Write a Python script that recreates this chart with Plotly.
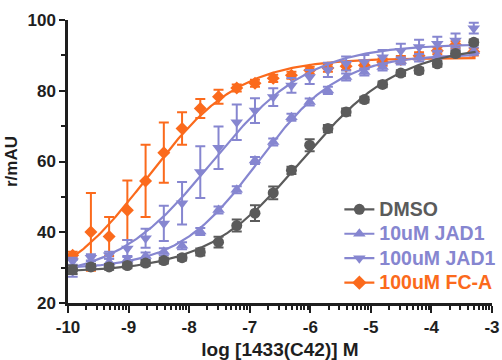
import numpy as np
import plotly.graph_objects as go

# ---- data ----
log_conc = [-9.923, -9.622, -9.321, -9.020, -8.719, -8.418, -8.117, -7.816,
            -7.515, -7.214, -6.913, -6.612, -6.311, -6.010, -5.709, -5.408,
            -5.107, -4.806, -4.505, -4.204, -3.903, -3.602, -3.301]

dmso = [29.4, 30.2, 30.2, 30.6, 31.3, 32.0, 32.8, 34.4, 37.2, 41.9, 45.4, 51.1,
        57.5, 64.6, 69.3, 74.0, 77.5, 81.8, 85.0, 85.7, 87.6, 90.5, 93.7]
dmso_err = [1.2, 0.8, 0.8, 0.8, 0.8, 0.8, 0.8, 1.0, 1.5, 1.7, 2.2, 1.8,
            1.0, 1.7, 1.0, 1.0, 0.8, 0.8, 0.8, 0.8, 0.8, 0.8, 0.8]

jad10 = [29.8, 31.0, 31.5, 32.3, 33.3, 34.5, 36.2, 40.2, 46.3, 52.0, 60.3, 65.5,
         72.5, 76.8, 80.1, 83.9, 85.3, 86.7, 88.4, 89.3, 90.0, 90.6, 91.2]
jad10_err = [2.4, 1.0, 1.0, 1.0, 1.0, 1.0, 1.0, 1.0, 1.0, 1.0, 1.0, 1.0,
             1.0, 1.0, 1.0, 1.0, 1.0, 1.0, 1.0, 1.0, 1.0, 1.0, 1.0]

jad100 = [31.8, 32.8, 33.5, 35.4, 38.3, 42.5, 48.2, 57.0, 63.9, 71.1, 74.4, 78.2,
          81.5, 83.9, 85.9, 87.7, 88.1, 89.5, 91.3, 92.4, 93.3, 94.2, 97.7]
jad100_err = [1.0, 1.0, 1.0, 2.4, 2.7, 5.0, 6.0, 7.3, 6.0, 5.0, 3.5, 2.5,
              2.1, 2.0, 2.0, 2.0, 2.0, 2.0, 2.0, 2.0, 2.0, 2.0, 1.5]

fca = [33.5, 40.1, 38.8, 46.2, 54.5, 62.5, 69.3, 75.0, 78.3, 80.8, 82.1, 83.5,
       84.4, 85.8, 86.4, 86.9, 87.2, 88.1, 88.8, 89.9, 91.3, 93.0, 91.0]
fca_err = [1.0, 11.0, 5.5, 8.4, 10.2, 8.5, 4.6, 2.7, 2.0, 1.0, 1.0, 1.0,
           1.0, 1.0, 1.0, 1.0, 1.0, 1.0, 1.0, 1.0, 1.0, 1.0, 1.0]

series_names = ["DMSO", "10uM JAD1", "100uM JAD1", "100uM FC-A"]
x_ticks = [-10, -9, -8, -7, -6, -5, -4, -3]
x_ticktext = ["-10", "-9", "-8", "-7", "-6", "-5", "-4", "-3"]
y_ticks = [20, 40, 60, 80, 100]

# ---- styles ----
GRAY = "#5b5b5b"
LAV = "#8686d0"
ORA = "#fb6a1c"
AX = "#1e1e1e"
FONT = "Arial, Liberation Sans, sans-serif"


def fit4pl(x, y):
    """Least-squares 4-parameter logistic fit (grid over EC50/Hill, linear for bottom/top)."""
    x = np.asarray(x, float)
    y = np.asarray(y, float)
    ec = np.arange(-10.5, -2.5, 0.01)
    hs = np.arange(0.3, 2.0, 0.01)
    E, H = np.meshgrid(ec, hs, indexing="ij")
    S = 1.0 / (1.0 + 10.0 ** ((E[..., None] - x) * H[..., None]))
    a = 1.0 - S
    b = S
    aa = (a * a).sum(-1); ab = (a * b).sum(-1); bb = (b * b).sum(-1)
    ay = (a * y).sum(-1); by = (b * y).sum(-1)
    det = aa * bb - ab * ab
    B = (ay * bb - by * ab) / det
    T = (aa * by - ab * ay) / det
    pred = B[..., None] * a + T[..., None] * b
    sse = ((pred - y) ** 2).sum(-1)
    i = np.unravel_index(np.nanargmin(sse), sse.shape)
    return B[i], T[i], E[i], H[i]


def curve(params, xs):
    B, T, E, H = params
    return B + (T - B) / (1.0 + 10.0 ** ((E - xs) * H))


xs = np.linspace(log_conc[0] - 0.05, log_conc[-1] + 0.03, 300)

fig = go.Figure()

# draw order: FC-A, 100uM JAD1, 10uM JAD1, DMSO (DMSO on top)
draw = [
    (fca, fca_err, ORA, "diamond", 10),
    (jad100, jad100_err, LAV, "triangle-down", 11),
    (jad10, jad10_err, LAV, "triangle-up", 11),
    (dmso, dmso_err, GRAY, "circle", 11),
]
for y, e, col, sym, sz in draw:
    p = fit4pl(log_conc, y)
    fig.add_trace(go.Scatter(x=xs, y=curve(p, xs), mode="lines",
                             line=dict(color=col, width=2.2),
                             showlegend=False, hoverinfo="skip", cliponaxis=False))
    fig.add_trace(go.Scatter(x=log_conc, y=y, mode="markers",
                             marker=dict(color=col, symbol=sym, size=sz, line=dict(width=0)),
                             error_y=dict(type="data", array=e, visible=True,
                                          color=col, thickness=2, width=5),
                             showlegend=False, cliponaxis=False))

# legend entries
legend_items = [
    (series_names[0], GRAY, "circle"),
    (series_names[1], LAV, "triangle-up"),
    (series_names[2], LAV, "triangle-down"),
    (series_names[3], ORA, "diamond"),
]
for name, col, sym in legend_items:
    fig.add_trace(go.Scatter(x=[None], y=[None], mode="lines+markers",
                             name=f"<span style='color:{col};font-size:19.5px'>{name}</span>",
                             line=dict(color=col, width=2.2),
                             marker=dict(color=col, symbol=sym, size=11)))

minor_x = [d + np.log10(k) for d in range(-10, -3) for k in range(2, 10)]

fig.update_layout(
    width=502, height=360,
    margin=dict(l=68, r=10, t=20, b=57, autoexpand=False),
    paper_bgcolor="white", plot_bgcolor="white",
    font=dict(family=FONT, size=17, color=AX, weight="bold"),
    showlegend=True,
    legend=dict(x=0.64, y=0.392, xanchor="left", yanchor="top",
                bgcolor="rgba(0,0,0,0)", traceorder="normal",
                font=dict(size=16.5, family=FONT, weight="bold"),
                itemwidth=30, tracegroupgap=0),
    xaxis=dict(range=[-10, -3], showline=True, linecolor=AX, linewidth=2.5,
               ticks="outside", ticklen=7, tickwidth=2, tickcolor=AX,
               tickvals=x_ticks, ticktext=x_ticktext, showgrid=False, zeroline=False,
               tickfont=dict(size=17, family=FONT, weight="bold", color=AX),
               minor=dict(tickvals=minor_x, ticks="outside", ticklen=4, tickwidth=1.5,
                          tickcolor=AX, showgrid=False),
               title=dict(text="log [1433(C42)] M", standoff=12,
                          font=dict(size=19, family=FONT, weight="bold", color=AX))),
    yaxis=dict(range=[20, 100], showline=True, linecolor=AX, linewidth=2.5,
               ticks="outside", ticklen=6, tickwidth=2, tickcolor=AX,
               tickvals=y_ticks, showgrid=False, zeroline=False,
               tickfont=dict(size=17, family=FONT, weight="bold", color=AX),
               minor=dict(tickvals=[30, 50, 70, 90], ticks="outside", ticklen=4,
                          tickwidth=1.5, tickcolor=AX, showgrid=False),
               title=dict(text="r/mAU", standoff=6,
                          font=dict(size=17, family=FONT, weight="bold", color=AX))),
)

fig.write_html("out.html")
